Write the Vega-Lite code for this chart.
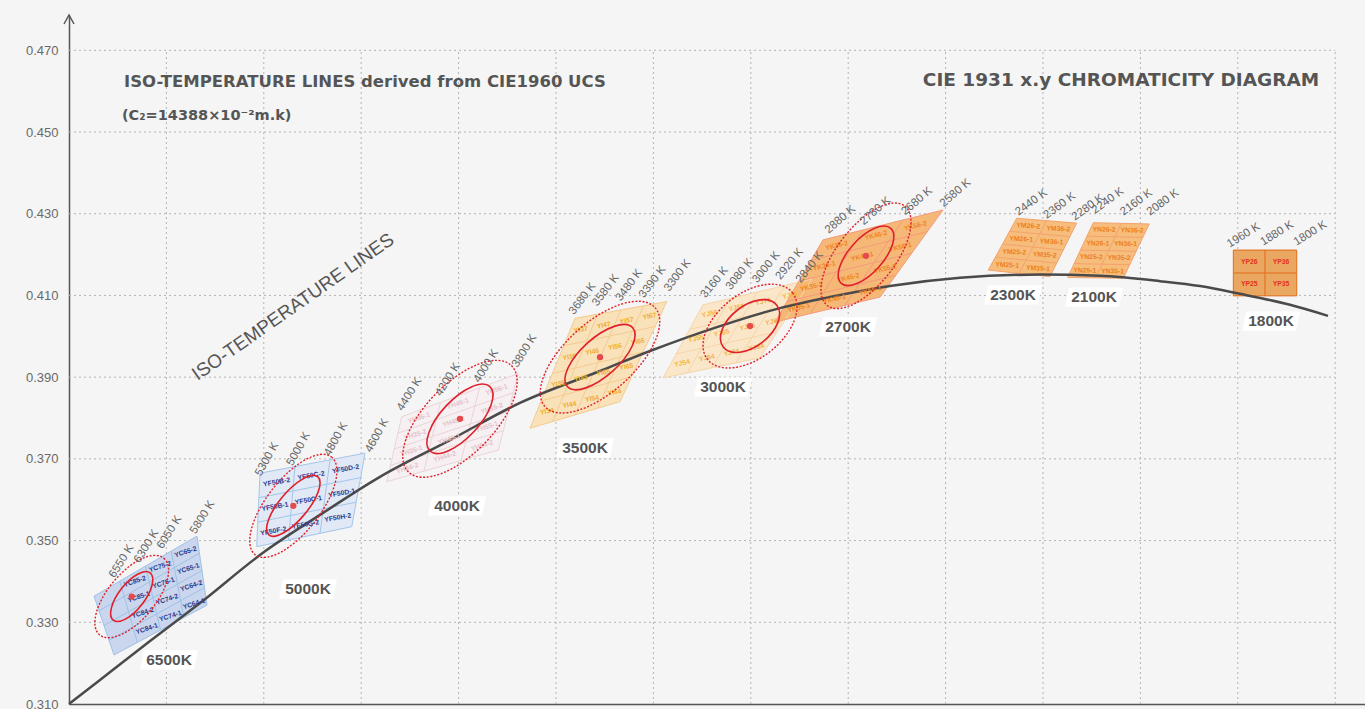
{
  "$schema": "https://vega.github.io/schema/vega-lite/v6.json",
  "width": 1296,
  "height": 689,
  "autosize": {"type": "none"},
  "padding": {"left": 69, "top": 15, "right": 0, "bottom": 5},
  "background": "#f5f5f5",
  "config": {"view": {"stroke": null}},
  "datasets": {
    "grid": [
      {"x": 1, "x2": 1, "y": 0.31, "y2": 0.47}, {"x": 2, "x2": 2, "y": 0.31, "y2": 0.47},
      {"x": 3, "x2": 3, "y": 0.31, "y2": 0.47}, {"x": 4, "x2": 4, "y": 0.31, "y2": 0.47},
      {"x": 5, "x2": 5, "y": 0.31, "y2": 0.47}, {"x": 6, "x2": 6, "y": 0.31, "y2": 0.47},
      {"x": 7, "x2": 7, "y": 0.31, "y2": 0.47}, {"x": 8, "x2": 8, "y": 0.31, "y2": 0.47},
      {"x": 9, "x2": 9, "y": 0.31, "y2": 0.47}, {"x": 10, "x2": 10, "y": 0.31, "y2": 0.47},
      {"x": 11, "x2": 11, "y": 0.31, "y2": 0.47}, {"x": 12, "x2": 12, "y": 0.31, "y2": 0.47},
      {"x": 13, "x2": 13, "y": 0.31, "y2": 0.47},
      {"x": 0, "x2": 13, "y": 0.33, "y2": 0.33}, {"x": 0, "x2": 13, "y": 0.35, "y2": 0.35},
      {"x": 0, "x2": 13, "y": 0.37, "y2": 0.37}, {"x": 0, "x2": 13, "y": 0.39, "y2": 0.39},
      {"x": 0, "x2": 13, "y": 0.41, "y2": 0.41}, {"x": 0, "x2": 13, "y": 0.43, "y2": 0.43},
      {"x": 0, "x2": 13, "y": 0.45, "y2": 0.45}, {"x": 0, "x2": 13, "y": 0.47, "y2": 0.47}
    ],
    "locus": [
      {"x": 0, "y": 0.31}, {"x": 0.318, "y": 0.3159}, {"x": 0.832, "y": 0.3254}, {"x": 1.345, "y": 0.3347},
      {"x": 2.002, "y": 0.3472}, {"x": 2.577, "y": 0.3563}, {"x": 3.193, "y": 0.3656}, {"x": 3.912, "y": 0.3746},
      {"x": 4.63, "y": 0.3837}, {"x": 5.452, "y": 0.3915}, {"x": 5.965, "y": 0.3964}, {"x": 6.684, "y": 0.4025},
      {"x": 7.3, "y": 0.4069}, {"x": 7.813, "y": 0.4096}, {"x": 8.429, "y": 0.4123}, {"x": 9.148, "y": 0.4143},
      {"x": 9.969, "y": 0.4151}, {"x": 10.585, "y": 0.4148}, {"x": 11.201, "y": 0.4135}, {"x": 11.612, "y": 0.4123},
      {"x": 12.023, "y": 0.4104}, {"x": 12.536, "y": 0.4077}, {"x": 12.926, "y": 0.405}
    ],
    "poly": [
      {"grp": "6500K", "o": 1, "x": 0.257, "y": 0.3364}, {"grp": "6500K", "o": 2, "x": 1.314, "y": 0.3511}, {"grp": "6500K", "o": 3, "x": 1.417, "y": 0.3342}, {"grp": "6500K", "o": 4, "x": 0.462, "y": 0.322},
      {"grp": "5000K", "o": 1, "x": 1.961, "y": 0.3665}, {"grp": "5000K", "o": 2, "x": 3.039, "y": 0.3714}, {"grp": "5000K", "o": 3, "x": 2.903, "y": 0.3534}, {"grp": "5000K", "o": 4, "x": 1.927, "y": 0.3485},
      {"grp": "4000K", "o": 1, "x": 3.416, "y": 0.3803}, {"grp": "4000K", "o": 2, "x": 4.613, "y": 0.3909}, {"grp": "4000K", "o": 3, "x": 4.408, "y": 0.3722}, {"grp": "4000K", "o": 4, "x": 3.262, "y": 0.3644},
      {"grp": "3500K", "o": 1, "x": 5.195, "y": 0.4044}, {"grp": "3500K", "o": 2, "x": 6.137, "y": 0.4085}, {"grp": "3500K", "o": 3, "x": 5.657, "y": 0.384}, {"grp": "3500K", "o": 4, "x": 4.733, "y": 0.3775},
      {"grp": "3000K", "o": 1, "x": 6.509, "y": 0.4077}, {"grp": "3000K", "o": 2, "x": 7.628, "y": 0.414}, {"grp": "3000K", "o": 3, "x": 7.094, "y": 0.3947}, {"grp": "3000K", "o": 4, "x": 6.099, "y": 0.3898},
      {"grp": "2700K", "o": 1, "x": 7.741, "y": 0.4236}, {"grp": "2700K", "o": 2, "x": 8.973, "y": 0.4309}, {"grp": "2700K", "o": 3, "x": 8.327, "y": 0.4096}, {"grp": "2700K", "o": 4, "x": 7.249, "y": 0.4035},
      {"grp": "2300K", "o": 1, "x": 9.73, "y": 0.4289}, {"grp": "2300K", "o": 2, "x": 10.346, "y": 0.4277}, {"grp": "2300K", "o": 3, "x": 10.072, "y": 0.4146}, {"grp": "2300K", "o": 4, "x": 9.438, "y": 0.4162},
      {"grp": "2100K", "o": 1, "x": 10.516, "y": 0.4278}, {"grp": "2100K", "o": 2, "x": 11.091, "y": 0.4275}, {"grp": "2100K", "o": 3, "x": 10.824, "y": 0.4142}, {"grp": "2100K", "o": 4, "x": 10.253, "y": 0.4144},
      {"grp": "1800K", "o": 1, "x": 11.954, "y": 0.4211}, {"grp": "1800K", "o": 2, "x": 12.605, "y": 0.4211}, {"grp": "1800K", "o": 3, "x": 12.605, "y": 0.4099}, {"grp": "1800K", "o": 4, "x": 11.954, "y": 0.4099}
    ],
    "seg": [
      {"grp": "6500K", "x": 0.257, "y": 0.3364, "x2": 1.314, "y2": 0.3511},
      {"grp": "6500K", "x": 0.308, "y": 0.3328, "x2": 1.34, "y2": 0.3469},
      {"grp": "6500K", "x": 0.359, "y": 0.3292, "x2": 1.366, "y2": 0.3427},
      {"grp": "6500K", "x": 0.411, "y": 0.3256, "x2": 1.391, "y2": 0.3385},
      {"grp": "6500K", "x": 0.462, "y": 0.322, "x2": 1.417, "y2": 0.3342},
      {"grp": "6500K", "x": 0.257, "y": 0.3364, "x2": 0.462, "y2": 0.322},
      {"grp": "6500K", "x": 0.521, "y": 0.3401, "x2": 0.701, "y2": 0.3251},
      {"grp": "6500K", "x": 0.785, "y": 0.3438, "x2": 0.939, "y2": 0.3281},
      {"grp": "6500K", "x": 1.05, "y": 0.3474, "x2": 1.178, "y2": 0.3312},
      {"grp": "6500K", "x": 1.314, "y": 0.3511, "x2": 1.417, "y2": 0.3342},
      {"grp": "5000K", "x": 1.961, "y": 0.3665, "x2": 3.039, "y2": 0.3714},
      {"grp": "5000K", "x": 1.95, "y": 0.3605, "x2": 2.994, "y2": 0.3654},
      {"grp": "5000K", "x": 1.938, "y": 0.3545, "x2": 2.948, "y2": 0.3594},
      {"grp": "5000K", "x": 1.927, "y": 0.3485, "x2": 2.903, "y2": 0.3534},
      {"grp": "5000K", "x": 1.961, "y": 0.3665, "x2": 1.927, "y2": 0.3485},
      {"grp": "5000K", "x": 2.32, "y": 0.3681, "x2": 2.253, "y2": 0.3501},
      {"grp": "5000K", "x": 2.68, "y": 0.3697, "x2": 2.577, "y2": 0.3518},
      {"grp": "5000K", "x": 3.039, "y": 0.3714, "x2": 2.903, "y2": 0.3534},
      {"grp": "4000K", "x": 3.416, "y": 0.3803, "x2": 4.613, "y2": 0.3909},
      {"grp": "4000K", "x": 3.377, "y": 0.3763, "x2": 4.562, "y2": 0.3862},
      {"grp": "4000K", "x": 3.339, "y": 0.3724, "x2": 4.51, "y2": 0.3816},
      {"grp": "4000K", "x": 3.3, "y": 0.3684, "x2": 4.459, "y2": 0.3769},
      {"grp": "4000K", "x": 3.262, "y": 0.3644, "x2": 4.408, "y2": 0.3722},
      {"grp": "4000K", "x": 3.416, "y": 0.3803, "x2": 3.262, "y2": 0.3644},
      {"grp": "4000K", "x": 3.815, "y": 0.3839, "x2": 3.644, "y2": 0.367},
      {"grp": "4000K", "x": 4.214, "y": 0.3874, "x2": 4.026, "y2": 0.3696},
      {"grp": "4000K", "x": 4.613, "y": 0.3909, "x2": 4.408, "y2": 0.3722},
      {"grp": "3500K", "x": 5.195, "y": 0.4044, "x2": 6.137, "y2": 0.4085},
      {"grp": "3500K", "x": 5.08, "y": 0.3977, "x2": 6.016, "y2": 0.4024},
      {"grp": "3500K", "x": 4.964, "y": 0.3909, "x2": 5.897, "y2": 0.3962},
      {"grp": "3500K", "x": 4.849, "y": 0.3842, "x2": 5.777, "y2": 0.3901},
      {"grp": "3500K", "x": 4.733, "y": 0.3775, "x2": 5.657, "y2": 0.384},
      {"grp": "3500K", "x": 5.195, "y": 0.4044, "x2": 4.733, "y2": 0.3775},
      {"grp": "3500K", "x": 5.43, "y": 0.4054, "x2": 4.964, "y2": 0.3791},
      {"grp": "3500K", "x": 5.666, "y": 0.4064, "x2": 5.195, "y2": 0.3807},
      {"grp": "3500K", "x": 5.901, "y": 0.4075, "x2": 5.426, "y2": 0.3824},
      {"grp": "3500K", "x": 6.137, "y": 0.4085, "x2": 5.657, "y2": 0.384},
      {"grp": "3000K", "x": 6.509, "y": 0.4077, "x2": 7.628, "y2": 0.414},
      {"grp": "3000K", "x": 6.372, "y": 0.4017, "x2": 7.45, "y2": 0.4076},
      {"grp": "3000K", "x": 6.235, "y": 0.3957, "x2": 7.272, "y2": 0.4011},
      {"grp": "3000K", "x": 6.099, "y": 0.3898, "x2": 7.094, "y2": 0.3947},
      {"grp": "3000K", "x": 6.509, "y": 0.4077, "x2": 6.099, "y2": 0.3898},
      {"grp": "3000K", "x": 6.789, "y": 0.4093, "x2": 6.348, "y2": 0.391},
      {"grp": "3000K", "x": 7.069, "y": 0.4108, "x2": 6.597, "y2": 0.3922},
      {"grp": "3000K", "x": 7.349, "y": 0.4124, "x2": 6.846, "y2": 0.3935},
      {"grp": "3000K", "x": 7.628, "y": 0.414, "x2": 7.094, "y2": 0.3947},
      {"grp": "2700K", "x": 7.741, "y": 0.4236, "x2": 8.973, "y2": 0.4309},
      {"grp": "2700K", "x": 7.618, "y": 0.4186, "x2": 8.812, "y2": 0.4256},
      {"grp": "2700K", "x": 7.495, "y": 0.4135, "x2": 8.65, "y2": 0.4203},
      {"grp": "2700K", "x": 7.372, "y": 0.4085, "x2": 8.488, "y2": 0.4149},
      {"grp": "2700K", "x": 7.249, "y": 0.4035, "x2": 8.327, "y2": 0.4096},
      {"grp": "2700K", "x": 7.741, "y": 0.4236, "x2": 7.249, "y2": 0.4035},
      {"grp": "2700K", "x": 8.152, "y": 0.426, "x2": 7.608, "y2": 0.4055},
      {"grp": "2700K", "x": 8.563, "y": 0.4285, "x2": 7.967, "y2": 0.4076},
      {"grp": "2700K", "x": 8.973, "y": 0.4309, "x2": 8.327, "y2": 0.4096},
      {"grp": "2300K", "x": 9.73, "y": 0.4289, "x2": 10.346, "y2": 0.4277},
      {"grp": "2300K", "x": 9.657, "y": 0.4257, "x2": 10.277, "y2": 0.4244},
      {"grp": "2300K", "x": 9.584, "y": 0.4226, "x2": 10.209, "y2": 0.4211},
      {"grp": "2300K", "x": 9.511, "y": 0.4194, "x2": 10.141, "y2": 0.4179},
      {"grp": "2300K", "x": 9.438, "y": 0.4162, "x2": 10.072, "y2": 0.4146},
      {"grp": "2300K", "x": 9.73, "y": 0.4289, "x2": 9.438, "y2": 0.4162},
      {"grp": "2300K", "x": 10.038, "y": 0.4283, "x2": 9.755, "y2": 0.4154},
      {"grp": "2300K", "x": 10.346, "y": 0.4277, "x2": 10.072, "y2": 0.4146},
      {"grp": "2100K", "x": 10.516, "y": 0.4278, "x2": 11.091, "y2": 0.4275},
      {"grp": "2100K", "x": 10.451, "y": 0.4245, "x2": 11.025, "y2": 0.4242},
      {"grp": "2100K", "x": 10.385, "y": 0.4211, "x2": 10.958, "y2": 0.4208},
      {"grp": "2100K", "x": 10.319, "y": 0.4178, "x2": 10.891, "y2": 0.4175},
      {"grp": "2100K", "x": 10.253, "y": 0.4144, "x2": 10.824, "y2": 0.4142},
      {"grp": "2100K", "x": 10.516, "y": 0.4278, "x2": 10.253, "y2": 0.4144},
      {"grp": "2100K", "x": 10.804, "y": 0.4276, "x2": 10.539, "y2": 0.4143},
      {"grp": "2100K", "x": 11.091, "y": 0.4275, "x2": 10.824, "y2": 0.4142},
      {"grp": "1800K", "x": 11.954, "y": 0.4211, "x2": 12.605, "y2": 0.4211},
      {"grp": "1800K", "x": 11.954, "y": 0.4155, "x2": 12.605, "y2": 0.4155},
      {"grp": "1800K", "x": 11.954, "y": 0.4099, "x2": 12.605, "y2": 0.4099},
      {"grp": "1800K", "x": 11.954, "y": 0.4211, "x2": 11.954, "y2": 0.4099},
      {"grp": "1800K", "x": 12.279, "y": 0.4211, "x2": 12.279, "y2": 0.4099},
      {"grp": "1800K", "x": 12.605, "y": 0.4211, "x2": 12.605, "y2": 0.4099}
    ],
    "bins": [
      {"grp": "6500K", "t": "YC85-2", "x": 0.675, "y": 0.34}, {"grp": "6500K", "t": "YC85-1", "x": 0.716, "y": 0.3362},
      {"grp": "6500K", "t": "YC84-2", "x": 0.758, "y": 0.3323}, {"grp": "6500K", "t": "YC84-1", "x": 0.799, "y": 0.3284},
      {"grp": "6500K", "t": "YC75-2", "x": 0.935, "y": 0.3436}, {"grp": "6500K", "t": "YC75-1", "x": 0.97, "y": 0.3396},
      {"grp": "6500K", "t": "YC74-2", "x": 1.006, "y": 0.3356}, {"grp": "6500K", "t": "YC74-1", "x": 1.041, "y": 0.3315},
      {"grp": "6500K", "t": "YC65-2", "x": 1.196, "y": 0.3472}, {"grp": "6500K", "t": "YC65-1", "x": 1.225, "y": 0.3431},
      {"grp": "6500K", "t": "YC64-2", "x": 1.255, "y": 0.3389}, {"grp": "6500K", "t": "YC64-1", "x": 1.283, "y": 0.3345},
      {"grp": "5000K", "t": "YF50B-2", "x": 2.132, "y": 0.3643}, {"grp": "5000K", "t": "YF50C-2", "x": 2.486, "y": 0.3659},
      {"grp": "5000K", "t": "YF50D-2", "x": 2.84, "y": 0.3675}, {"grp": "5000K", "t": "YF50B-1", "x": 2.115, "y": 0.3583},
      {"grp": "5000K", "t": "YF50C-1", "x": 2.458, "y": 0.3599}, {"grp": "5000K", "t": "YF50D-1", "x": 2.8, "y": 0.3616},
      {"grp": "5000K", "t": "YF50F-2", "x": 2.099, "y": 0.3523}, {"grp": "5000K", "t": "YF50G-2", "x": 2.429, "y": 0.3539},
      {"grp": "5000K", "t": "YF50H-2", "x": 2.76, "y": 0.3556},
      {"grp": "4000K", "t": "YH36-1", "x": 3.594, "y": 0.38}, {"grp": "4000K", "t": "YH46-1", "x": 3.992, "y": 0.3835},
      {"grp": "4000K", "t": "YH56-1", "x": 4.389, "y": 0.3869}, {"grp": "4000K", "t": "YH35-2", "x": 3.554, "y": 0.3759},
      {"grp": "4000K", "t": "YH45-2", "x": 3.948, "y": 0.3791}, {"grp": "4000K", "t": "YH55-2", "x": 4.34, "y": 0.3823},
      {"grp": "4000K", "t": "YH35-1", "x": 3.513, "y": 0.3719}, {"grp": "4000K", "t": "YH45-1", "x": 3.903, "y": 0.3748},
      {"grp": "4000K", "t": "YH55-1", "x": 4.291, "y": 0.3778}, {"grp": "4000K", "t": "YH34-2", "x": 3.473, "y": 0.3677},
      {"grp": "4000K", "t": "YH44-2", "x": 3.857, "y": 0.3705}, {"grp": "4000K", "t": "YH54-2", "x": 4.241, "y": 0.3732},
      {"grp": "3500K", "t": "YI37", "x": 5.255, "y": 0.4016}, {"grp": "3500K", "t": "YI47", "x": 5.49, "y": 0.4027},
      {"grp": "3500K", "t": "YI57", "x": 5.725, "y": 0.4038}, {"grp": "3500K", "t": "YI67", "x": 5.96, "y": 0.4049},
      {"grp": "3500K", "t": "YI36", "x": 5.139, "y": 0.3949}, {"grp": "3500K", "t": "YI46", "x": 5.373, "y": 0.3962},
      {"grp": "3500K", "t": "YI56", "x": 5.606, "y": 0.3974}, {"grp": "3500K", "t": "YI66", "x": 5.84, "y": 0.3987},
      {"grp": "3500K", "t": "YI35", "x": 5.023, "y": 0.3883}, {"grp": "3500K", "t": "YI45", "x": 5.256, "y": 0.3897},
      {"grp": "3500K", "t": "YI55", "x": 5.488, "y": 0.3911}, {"grp": "3500K", "t": "YI65", "x": 5.721, "y": 0.3925},
      {"grp": "3500K", "t": "YI34", "x": 4.907, "y": 0.3816}, {"grp": "3500K", "t": "YI44", "x": 5.138, "y": 0.3832},
      {"grp": "3500K", "t": "YI54", "x": 5.37, "y": 0.3847}, {"grp": "3500K", "t": "YI64", "x": 5.601, "y": 0.3863},
      {"grp": "3000K", "t": "YJ56", "x": 6.578, "y": 0.4055}, {"grp": "3000K", "t": "YJ66", "x": 6.853, "y": 0.407},
      {"grp": "3000K", "t": "YJ76", "x": 7.127, "y": 0.4085}, {"grp": "3000K", "t": "YJ86", "x": 7.403, "y": 0.41},
      {"grp": "3000K", "t": "YJ55", "x": 6.436, "y": 0.3994}, {"grp": "3000K", "t": "YJ65", "x": 6.7, "y": 0.4008},
      {"grp": "3000K", "t": "YJ75", "x": 6.965, "y": 0.4023}, {"grp": "3000K", "t": "YJ85", "x": 7.229, "y": 0.4036},
      {"grp": "3000K", "t": "YJ54", "x": 6.294, "y": 0.3934}, {"grp": "3000K", "t": "YJ64", "x": 6.548, "y": 0.3947},
      {"grp": "3000K", "t": "YJ74", "x": 6.802, "y": 0.396}, {"grp": "3000K", "t": "YJ84", "x": 7.057, "y": 0.3973},
      {"grp": "2700K", "t": "YK36-2", "x": 7.882, "y": 0.4222}, {"grp": "2700K", "t": "YK46-2", "x": 8.286, "y": 0.4247},
      {"grp": "2700K", "t": "YK56-2", "x": 8.69, "y": 0.427}, {"grp": "2700K", "t": "YK36-1", "x": 7.753, "y": 0.4172},
      {"grp": "2700K", "t": "YK46-1", "x": 8.144, "y": 0.4195}, {"grp": "2700K", "t": "YK56-1", "x": 8.535, "y": 0.4218},
      {"grp": "2700K", "t": "YK35-2", "x": 7.622, "y": 0.4121}, {"grp": "2700K", "t": "YK45-2", "x": 8.001, "y": 0.4143},
      {"grp": "2700K", "t": "YK55-2", "x": 8.38, "y": 0.4165}, {"grp": "2700K", "t": "YK35-1", "x": 7.493, "y": 0.407},
      {"grp": "2700K", "t": "YK45-1", "x": 7.859, "y": 0.4091}, {"grp": "2700K", "t": "YK55-1", "x": 8.225, "y": 0.4112},
      {"grp": "2300K", "t": "YM26-2", "x": 9.848, "y": 0.427}, {"grp": "2300K", "t": "YM36-2", "x": 10.157, "y": 0.4263},
      {"grp": "2300K", "t": "YM26-1", "x": 9.776, "y": 0.4238}, {"grp": "2300K", "t": "YM36-1", "x": 10.087, "y": 0.4231},
      {"grp": "2300K", "t": "YM25-2", "x": 9.704, "y": 0.4206}, {"grp": "2300K", "t": "YM35-2", "x": 10.017, "y": 0.4199},
      {"grp": "2300K", "t": "YM25-1", "x": 9.632, "y": 0.4174}, {"grp": "2300K", "t": "YM35-1", "x": 9.948, "y": 0.4166},
      {"grp": "2100K", "t": "YN26-2", "x": 10.627, "y": 0.4261}, {"grp": "2100K", "t": "YN36-2", "x": 10.915, "y": 0.4259},
      {"grp": "2100K", "t": "YN26-1", "x": 10.562, "y": 0.4227}, {"grp": "2100K", "t": "YN36-1", "x": 10.848, "y": 0.4226},
      {"grp": "2100K", "t": "YN25-2", "x": 10.495, "y": 0.4194}, {"grp": "2100K", "t": "YN35-2", "x": 10.781, "y": 0.4192},
      {"grp": "2100K", "t": "YN25-1", "x": 10.429, "y": 0.4161}, {"grp": "2100K", "t": "YN35-1", "x": 10.715, "y": 0.4159},
      {"grp": "1800K", "t": "YP26", "x": 12.117, "y": 0.4183}, {"grp": "1800K", "t": "YP36", "x": 12.444, "y": 0.4183},
      {"grp": "1800K", "t": "YP25", "x": 12.117, "y": 0.4127}, {"grp": "1800K", "t": "YP35", "x": 12.444, "y": 0.4127}
    ],
    "iso": [
      {"grp": "6500K", "t": "6550 K", "x": 0.441, "y": 0.3411}, {"grp": "6500K", "t": "6300 K", "x": 0.698, "y": 0.3448},
      {"grp": "6500K", "t": "6050 K", "x": 0.934, "y": 0.3482}, {"grp": "6500K", "t": "5800 K", "x": 1.273, "y": 0.3519},
      {"grp": "5000K", "t": "5300 K", "x": 1.944, "y": 0.366}, {"grp": "5000K", "t": "5000 K", "x": 2.269, "y": 0.3685},
      {"grp": "5000K", "t": "4800 K", "x": 2.652, "y": 0.3709}, {"grp": "5000K", "t": "4600 K", "x": 3.073, "y": 0.3718},
      {"grp": "4000K", "t": "4400 K", "x": 3.398, "y": 0.382}, {"grp": "4000K", "t": "4200 K", "x": 3.792, "y": 0.3856},
      {"grp": "4000K", "t": "4000 K", "x": 4.186, "y": 0.3889}, {"grp": "4000K", "t": "3800 K", "x": 4.579, "y": 0.3926},
      {"grp": "3500K", "t": "3680 K", "x": 5.161, "y": 0.4056}, {"grp": "3500K", "t": "3580 K", "x": 5.4, "y": 0.4077},
      {"grp": "3500K", "t": "3480 K", "x": 5.64, "y": 0.4089}, {"grp": "3500K", "t": "3390 K", "x": 5.88, "y": 0.4097},
      {"grp": "3500K", "t": "3300 K", "x": 6.137, "y": 0.4113},
      {"grp": "3000K", "t": "3160 K", "x": 6.512, "y": 0.4097}, {"grp": "3000K", "t": "3080 K", "x": 6.769, "y": 0.4117},
      {"grp": "3000K", "t": "3000 K", "x": 7.043, "y": 0.4134}, {"grp": "3000K", "t": "2920 K", "x": 7.282, "y": 0.4142},
      {"grp": "3000K", "t": "2840 K", "x": 7.488, "y": 0.4134},
      {"grp": "2700K", "t": "2880 K", "x": 7.779, "y": 0.4256}, {"grp": "2700K", "t": "2780 K", "x": 8.139, "y": 0.4277},
      {"grp": "2700K", "t": "2680 K", "x": 8.566, "y": 0.4301}, {"grp": "2700K", "t": "2580 K", "x": 8.96, "y": 0.4321},
      {"grp": "2300K", "t": "2440 K", "x": 9.73, "y": 0.4301}, {"grp": "2300K", "t": "2360 K", "x": 10.021, "y": 0.4293},
      {"grp": "2300K", "t": "2280 K", "x": 10.311, "y": 0.4289},
      {"grp": "2100K", "t": "2240 K", "x": 10.516, "y": 0.4305}, {"grp": "2100K", "t": "2160 K", "x": 10.808, "y": 0.4301},
      {"grp": "2100K", "t": "2080 K", "x": 11.081, "y": 0.4301},
      {"grp": "1800K", "t": "1960 K", "x": 11.902, "y": 0.4223}, {"grp": "1800K", "t": "1880 K", "x": 12.245, "y": 0.4228},
      {"grp": "1800K", "t": "1800 K", "x": 12.587, "y": 0.4228}
    ],
    "dots": [
      {"cct": "6500K", "x": 0.644, "y": 0.3363}, {"cct": "5000K", "x": 2.303, "y": 0.3585},
      {"cct": "4000K", "x": 4.014, "y": 0.3798}, {"cct": "3500K", "x": 5.452, "y": 0.3949},
      {"cct": "3000K", "x": 6.992, "y": 0.4025}, {"cct": "2700K", "x": 8.183, "y": 0.4197}
    ],
    "cct": [
      {"t": "6500K", "x": 1.027, "y": 0.3208}, {"t": "5000K", "x": 2.454, "y": 0.3381},
      {"t": "4000K", "x": 3.984, "y": 0.3585}, {"t": "3500K", "x": 5.298, "y": 0.3727},
      {"t": "3000K", "x": 6.715, "y": 0.3876}, {"t": "2700K", "x": 7.998, "y": 0.4023},
      {"t": "2300K", "x": 9.692, "y": 0.4101}, {"t": "2100K", "x": 10.524, "y": 0.4096},
      {"t": "1800K", "x": 12.341, "y": 0.4037}
    ]
  },
  "encoding": {
    "x": {"field": "x", "type": "quantitative", "scale": {"domain": [0, 13.306], "nice": false, "zero": false},
      "axis": {"labels": false, "ticks": false, "grid": false, "title": null, "domainColor": "#555555", "domainWidth": 1.5}},
    "y": {"field": "y", "type": "quantitative", "scale": {"domain": [0.31, 0.47864], "nice": false, "zero": false},
      "axis": {"values": [0.31, 0.33, 0.35, 0.37, 0.39, 0.41, 0.43, 0.45, 0.47], "format": ".3f", "title": null, "ticks": false, "grid": false,
        "labelPadding": 11, "labelFont": "Liberation Sans", "labelFontSize": 13, "labelColor": "#6a6a6a", "domainColor": "#555555", "domainWidth": 1.5}}
  },
  "resolve": {"scale": {"angle": "independent"}},
  "layer": [
    {"data": {"name": "grid"}, "mark": {"type": "rule", "stroke": "#b3b3b3", "strokeWidth": 1, "strokeDash": [2, 3]},
      "encoding": {"x2": {"field": "x2"}, "y2": {"field": "y2"}}},
    {"data": {"name": "poly"}, "mark": {"type": "line", "interpolate": "linear-closed", "strokeOpacity": 0, "fillOpacity": 0.95},
      "encoding": {"order": {"field": "o", "type": "quantitative"}, "detail": {"field": "grp"},
        "fill": {"field": "grp", "type": "nominal", "legend": null, "scale": {"domain": ["6500K", "5000K", "4000K", "3500K", "3000K", "2700K", "2300K", "2100K", "1800K"],
          "range": ["#c7d4ec", "#dfe7f6", "#f7eff1", "#f9e0b6", "#fae5c6", "#f6b470", "#f7b975", "#f7b975", "#e9a25a"]}}}},
    {"data": {"name": "seg"}, "mark": {"type": "rule", "strokeWidth": 1},
      "encoding": {"x2": {"field": "x2"}, "y2": {"field": "y2"},
        "stroke": {"field": "grp", "type": "nominal", "legend": null, "scale": {"domain": ["6500K", "5000K", "4000K", "3500K", "3000K", "2700K", "2300K", "2100K", "1800K"],
          "range": ["#9cc2e6", "#a3c6ea", "#ebd3d9", "#f4cb8f", "#f5d5a8", "#f39a7c", "#f3a36c", "#f3a36c", "#e36c18"]}}}},
    {"data": {"name": "locus"}, "mark": {"type": "line", "stroke": "#4a4a4a", "strokeWidth": 2.5, "interpolate": "monotone"}, "encoding": {}},
    {"data": {"name": "bins"}, "mark": {"type": "text", "font": "Liberation Sans Narrow, Liberation Sans, sans-serif", "fontWeight": "bold", "fontSize": 6.8, "align": "center", "baseline": "middle"},
      "encoding": {"text": {"field": "t"},
        "color": {"field": "grp", "type": "nominal", "legend": null, "scale": {"domain": ["6500K", "5000K", "4000K", "3500K", "3000K", "2700K", "2300K", "2100K", "1800K"],
          "range": ["#2c3b8f", "#2c3b8f", "#e3c2ca", "#f1ad2a", "#f2b547", "#ee8521", "#ee7f1b", "#ee7f1b", "#e2321e"]}},
        "angle": {"field": "grp", "type": "ordinal", "legend": null, "scale": {"type": "ordinal", "domain": ["6500K", "5000K", "4000K", "3500K", "3000K", "2700K", "2300K", "2100K", "1800K"],
          "range": [-18, -10, -18, -10, -12, -14, 3, 1, 0]}}}},
    {"data": {"name": "dots"}, "transform": [{"filter": "datum.cct == '6500K'"}],
      "mark": {"type": "point", "shape": "M1 0C1 0.237 0.552 0.43 0 0.43C-0.552 0.43 -1 0.237 -1 0C-1 -0.237 -0.552 -0.43 0 -0.43C0.552 -0.43 1 -0.237 1 0Z", "size": 3600, "angle": -52, "filled": false, "stroke": "#e0202a", "strokeWidth": 1.6, "opacity": 1}, "encoding": {}},
    {"data": {"name": "dots"}, "transform": [{"filter": "datum.cct == '6500K'"}],
      "mark": {"type": "point", "shape": "M1 0C1 0.26 0.552 0.47 0 0.47C-0.552 0.47 -1 0.26 -1 0C-1 -0.26 -0.552 -0.47 0 -0.47C0.552 -0.47 1 -0.26 1 0Z", "size": 10000, "angle": -50, "filled": false, "stroke": "#e0202a", "strokeWidth": 1.4, "strokeDash": [2, 1.6], "opacity": 1}, "encoding": {}},
    {"data": {"name": "dots"}, "transform": [{"filter": "datum.cct == '5000K'"}],
      "mark": {"type": "point", "shape": "M1 0C1 0.204 0.552 0.37 0 0.37C-0.552 0.37 -1 0.204 -1 0C-1 -0.204 -0.552 -0.37 0 -0.37C0.552 -0.37 1 -0.204 1 0Z", "size": 5776, "angle": -50, "filled": false, "stroke": "#e0202a", "strokeWidth": 1.6, "opacity": 1}, "encoding": {}},
    {"data": {"name": "dots"}, "transform": [{"filter": "datum.cct == '5000K'"}],
      "mark": {"type": "point", "shape": "M1 0C1 0.237 0.552 0.43 0 0.43C-0.552 0.43 -1 0.237 -1 0C-1 -0.237 -0.552 -0.43 0 -0.43C0.552 -0.43 1 -0.237 1 0Z", "size": 15376, "angle": -52, "filled": false, "stroke": "#e0202a", "strokeWidth": 1.4, "strokeDash": [2, 1.6], "opacity": 1}, "encoding": {}},
    {"data": {"name": "dots"}, "transform": [{"filter": "datum.cct == '4000K'"}],
      "mark": {"type": "point", "shape": "M1 0C1 0.237 0.552 0.43 0 0.43C-0.552 0.43 -1 0.237 -1 0C-1 -0.237 -0.552 -0.43 0 -0.43C0.552 -0.43 1 -0.237 1 0Z", "size": 7744, "angle": -47, "filled": false, "stroke": "#e0202a", "strokeWidth": 1.6, "opacity": 1}, "encoding": {}},
    {"data": {"name": "dots"}, "transform": [{"filter": "datum.cct == '4000K'"}],
      "mark": {"type": "point", "shape": "M1 0C1 0.26 0.552 0.47 0 0.47C-0.552 0.47 -1 0.26 -1 0C-1 -0.26 -0.552 -0.47 0 -0.47C0.552 -0.47 1 -0.26 1 0Z", "size": 21904, "angle": -46, "filled": false, "stroke": "#e0202a", "strokeWidth": 1.4, "strokeDash": [2, 1.6], "opacity": 1}, "encoding": {}},
    {"data": {"name": "dots"}, "transform": [{"filter": "datum.cct == '3500K'"}],
      "mark": {"type": "point", "shape": "M1 0C1 0.237 0.552 0.43 0 0.43C-0.552 0.43 -1 0.237 -1 0C-1 -0.237 -0.552 -0.43 0 -0.43C0.552 -0.43 1 -0.237 1 0Z", "size": 7744, "angle": -42, "filled": false, "stroke": "#e0202a", "strokeWidth": 1.6, "opacity": 1}, "encoding": {}},
    {"data": {"name": "dots"}, "transform": [{"filter": "datum.cct == '3500K'"}],
      "mark": {"type": "point", "shape": "M1 0C1 0.26 0.552 0.47 0 0.47C-0.552 0.47 -1 0.26 -1 0C-1 -0.26 -0.552 -0.47 0 -0.47C0.552 -0.47 1 -0.26 1 0Z", "size": 21904, "angle": -42, "filled": false, "stroke": "#e0202a", "strokeWidth": 1.4, "strokeDash": [2, 1.6], "opacity": 1}, "encoding": {}},
    {"data": {"name": "dots"}, "transform": [{"filter": "datum.cct == '3000K'"}],
      "mark": {"type": "point", "shape": "M1 0C1 0.331 0.552 0.6 0 0.6C-0.552 0.6 -1 0.331 -1 0C-1 -0.331 -0.552 -0.6 0 -0.6C0.552 -0.6 1 -0.331 1 0Z", "size": 4624, "angle": -38, "filled": false, "stroke": "#e0202a", "strokeWidth": 1.6, "opacity": 1}, "encoding": {}},
    {"data": {"name": "dots"}, "transform": [{"filter": "datum.cct == '3000K'"}],
      "mark": {"type": "point", "shape": "M1 0C1 0.331 0.552 0.6 0 0.6C-0.552 0.6 -1 0.331 -1 0C-1 -0.331 -0.552 -0.6 0 -0.6C0.552 -0.6 1 -0.331 1 0Z", "size": 11664, "angle": -38, "filled": false, "stroke": "#e0202a", "strokeWidth": 1.4, "strokeDash": [2, 1.6], "opacity": 1}, "encoding": {}},
    {"data": {"name": "dots"}, "transform": [{"filter": "datum.cct == '2700K'"}],
      "mark": {"type": "point", "shape": "M1 0C1 0.254 0.552 0.46 0 0.46C-0.552 0.46 -1 0.254 -1 0C-1 -0.254 -0.552 -0.46 0 -0.46C0.552 -0.46 1 -0.254 1 0Z", "size": 5476, "angle": -48, "filled": false, "stroke": "#e0202a", "strokeWidth": 1.6, "opacity": 1}, "encoding": {}},
    {"data": {"name": "dots"}, "transform": [{"filter": "datum.cct == '2700K'"}],
      "mark": {"type": "point", "shape": "M1 0C1 0.254 0.552 0.46 0 0.46C-0.552 0.46 -1 0.254 -1 0C-1 -0.254 -0.552 -0.46 0 -0.46C0.552 -0.46 1 -0.254 1 0Z", "size": 15876, "angle": -52, "filled": false, "stroke": "#e0202a", "strokeWidth": 1.4, "strokeDash": [2, 1.6], "opacity": 1}, "encoding": {}},
    {"data": {"name": "dots"}, "mark": {"type": "point", "shape": "circle", "filled": true, "fill": "#e64a4a", "size": 40, "opacity": 1}, "encoding": {}},
    {"data": {"name": "iso"}, "mark": {"type": "text", "font": "Liberation Sans", "fontSize": 11.5, "fill": "#666666", "align": "left", "baseline": "middle"},
      "encoding": {"text": {"field": "t"},
        "angle": {"field": "grp", "type": "ordinal", "legend": null, "scale": {"type": "ordinal", "domain": ["6500K", "5000K", "4000K", "3500K", "3000K", "2700K", "2300K", "2100K", "1800K"],
          "range": [-58, -61, -58, -53, -51, -41, -36, -36, -32]}}}},
    {"data": {"name": "cct"}, "mark": {"type": "point", "shape": "M-0.86 -0.33L1 -0.33L0.86 0.33L-1 0.33Z", "size": 3364, "filled": true, "fill": "#ffffff", "strokeWidth": 0, "opacity": 1}, "encoding": {}},
    {"data": {"name": "cct"}, "mark": {"type": "text", "font": "Liberation Sans", "fontWeight": "bold", "fontSize": 15.5, "fill": "#555555", "align": "center", "baseline": "middle"},
      "encoding": {"text": {"field": "t"}}},
    {"data": {"values": [{"t": "ISO-TEMPERATURE  LINES  derived  from CIE1960 UCS", "x": 0.565, "y": 0.4622}]},
      "mark": {"type": "text", "font": "DejaVu Sans", "fontWeight": "bold", "fontSize": 16.5, "fill": "#555555", "align": "left", "baseline": "middle"},
      "encoding": {"text": {"field": "t"}}},
    {"data": {"values": [{"t": "(C₂=14388×10⁻²m.k)", "x": 0.544, "y": 0.4539}]},
      "mark": {"type": "text", "font": "DejaVu Sans", "fontWeight": "bold", "fontSize": 14.5, "fill": "#555555", "align": "left", "baseline": "middle"},
      "encoding": {"text": {"field": "t"}}},
    {"data": {"values": [{"t": "CIE  1931  x.y  CHROMATICITY  DIAGRAM", "x": 10.801, "y": 0.4627}]},
      "mark": {"type": "text", "font": "DejaVu Sans", "fontWeight": "bold", "fontSize": 18.5, "fill": "#555555", "align": "center", "baseline": "middle"},
      "encoding": {"text": {"field": "t"}}},
    {"data": {"values": [{"t": "ISO-TEMPERATURE LINES", "x": 2.3, "y": 0.4072}]},
      "mark": {"type": "text", "font": "Liberation Sans", "fontSize": 19, "fill": "#555555", "align": "center", "baseline": "middle", "angle": -35},
      "encoding": {"text": {"field": "t"}}},
    {"data": {"values": [{"x": 0, "y": 0.47864}]},
      "mark": {"type": "point", "shape": "M-1 1.8L0 0L1 1.8", "size": 100, "filled": false, "stroke": "#555555", "strokeWidth": 1.5, "opacity": 1}, "encoding": {}}
  ]
}
